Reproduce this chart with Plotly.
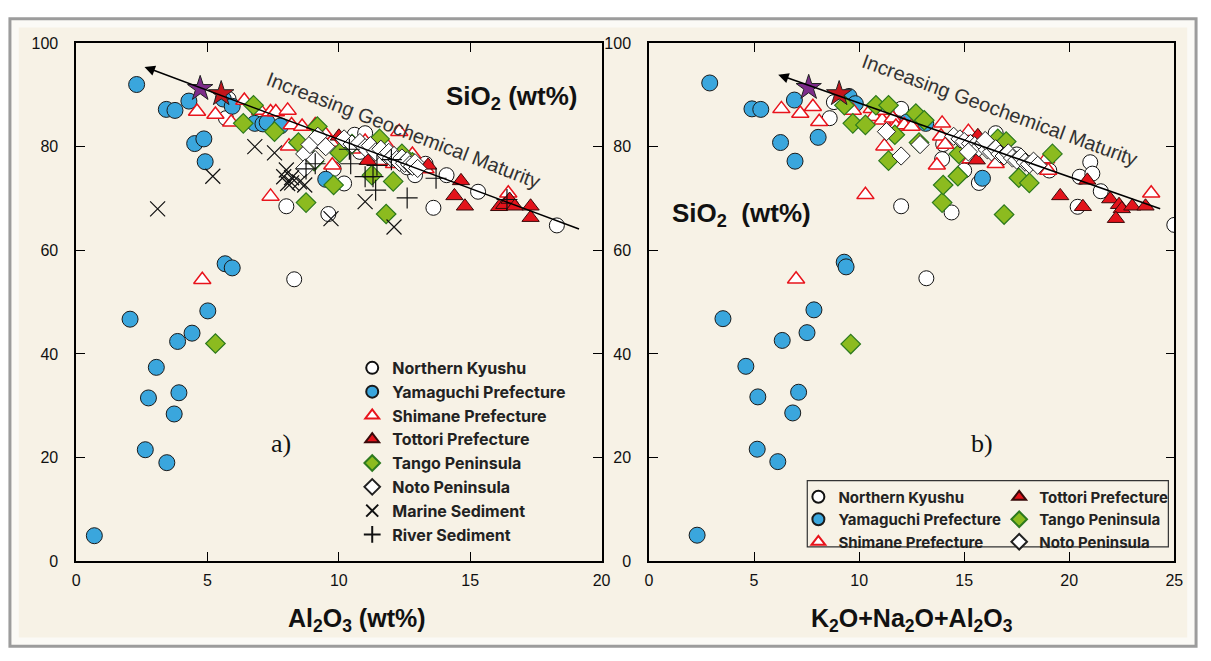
import plotly.graph_objects as go

# ---------------- DATA (panel a: Al2O3 vs SiO2) ----------------
kyushu_a_x = [5.8, 5.7, 8.0, 8.3, 9.2, 9.6, 9.8, 10.2, 10.6, 11.0, 11.5, 12.3, 12.9, 13.3, 13.6, 14.1, 15.3, 18.3, 8.8, 10.8, 12.6]
kyushu_a_y = [89.2, 85.5, 68.5, 54.4, 81.1, 67.0, 75.7, 72.9, 82.3, 82.6, 80.5, 78.0, 74.5, 76.7, 68.2, 74.5, 71.3, 64.8, 78.6, 79.0, 76.0]

yama_a_x = [2.3, 3.43, 3.76, 4.29, 4.51, 4.86, 4.91, 5.6, 5.94, 6.8, 7.11, 7.27, 7.78, 9.5,
            5.67, 5.94, 2.05, 5.01, 4.41, 3.86, 3.05, 2.75, 3.91, 3.73, 2.63, 3.45, 0.69]
yama_a_y = [92.0, 87.2, 87.0, 88.8, 80.6, 81.5, 77.1, 89.2, 87.8, 84.5, 84.4, 84.7, 84.0, 73.7,
            57.4, 56.6, 46.7, 48.3, 44.0, 42.4, 37.4, 31.5, 32.5, 28.4, 21.5, 19.0, 4.9]

shimane_a_x = [4.6, 4.8, 5.3, 5.9, 6.4, 7.0, 7.4, 7.6, 8.05, 8.2, 8.6, 8.1, 7.4, 9.1, 9.5, 9.1, 9.7, 9.75,
               11.8, 11.6, 12.1, 12.3, 13.3, 16.45, 10.5, 11.0, 12.8]
shimane_a_y = [86.8, 54.3, 86.2, 84.7, 88.9, 87.0, 86.7, 86.7, 87.0, 84.2, 83.9, 80.1, 70.4, 84.2, 82.3, 81.7, 80.8, 76.4,
               80.4, 77.3, 76.7, 82.9, 75.7, 71.0, 79.5, 81.0, 78.5]

tottori_a_x = [10.0, 11.1, 12.3, 12.6, 13.4, 14.4, 14.65, 14.8, 16.1, 16.3, 16.5, 16.7, 17.3, 17.3]
tottori_a_y = [82.0, 77.3, 78.0, 77.0, 76.4, 70.5, 73.4, 68.5, 68.4, 68.8, 69.8, 68.5, 68.5, 66.3]

tango_a_x = [5.3, 6.36, 6.75, 7.55, 8.46, 8.75, 9.06, 9.18, 9.8, 10.03, 10.5, 11.26, 11.55, 11.8, 12.07, 12.4, 12.8]
tango_a_y = [42.0, 84.5, 88.0, 82.9, 80.8, 69.2, 77.2, 83.9, 72.6, 78.8, 80.5, 74.5, 81.5, 67.0, 73.3, 78.6, 77.0]

noto_a_x = [8.7, 8.9, 9.2, 9.5, 10.2, 10.5, 10.8, 11.0, 11.2, 11.4, 11.6, 11.8, 11.9, 12.0, 12.1, 12.2, 12.3,
            12.4, 12.5, 12.6, 12.7, 12.8, 12.9, 13.0, 9.1, 8.7]
noto_a_y = [78.6, 80.4, 82.0, 80.0, 81.5, 80.5, 80.8, 79.8, 80.2, 79.0, 79.5, 78.4, 78.9, 77.8, 78.3, 77.5, 77.0,
            77.8, 76.8, 77.3, 76.5, 76.2, 76.9, 75.8, 77.5, 75.8]

marine_a_x = [3.1, 5.2, 6.8, 7.55, 7.9, 8.2, 8.2, 8.5, 8.7, 8.05, 9.7, 11.0, 12.1, 8.0]
marine_a_y = [68.0, 74.3, 80.0, 78.8, 74.2, 74.0, 73.0, 73.2, 72.6, 72.9, 66.1, 69.4, 64.5, 75.5]

river_a_x = [8.75, 9.1, 10.4, 10.45, 11.0, 11.3, 11.4, 11.45, 12.6, 13.7, 16.4, 12.0]
river_a_y = [75.7, 76.7, 79.5, 76.7, 74.2, 74.2, 71.6, 76.4, 70.1, 73.9, 69.8, 77.5]

stars_a_x = [4.72, 5.52]
stars_a_y = [91.2, 90.2]
trend_a = [[2.6, 95.4], [19.2, 64.0]]   # arrow head, tail

# ---------------- DATA (panel b: K2O+Na2O+Al2O3 vs SiO2) ----------------
kyushu_b_x = [8.6, 8.8, 12.0, 12.0, 13.2, 13.95, 14.4, 15.0, 15.7, 16.5, 19.05, 20.4, 20.5, 21.0, 21.1, 21.5, 25.0, 17.5, 14.0]
kyushu_b_y = [85.5, 88.6, 87.3, 68.5, 54.6, 77.6, 67.3, 75.4, 73.0, 82.6, 75.4, 68.4, 74.2, 77.0, 74.8, 71.4, 64.9, 78.5, 80.5]

yama_b_x = [2.89, 4.9, 5.32, 6.92, 6.26, 8.05, 6.95, 9.52, 9.82, 12.3, 13.17, 15.87,
            9.29, 9.38, 3.52, 7.85, 7.52, 6.34, 4.61, 5.18, 7.12, 6.84, 5.15, 6.13, 2.29]
yama_b_y = [92.3, 87.3, 87.2, 89.0, 80.8, 81.8, 77.2, 89.7, 88.3, 84.8, 84.5, 73.9,
            57.7, 56.8, 46.8, 48.5, 44.1, 42.6, 37.6, 31.7, 32.6, 28.6, 21.6, 19.2, 5.0]

shimane_b_x = [6.3, 7.0, 7.2, 7.8, 8.1, 9.7, 10.3, 10.6, 10.7, 11.1, 11.2, 11.2, 11.6, 11.75, 12.15, 12.5,
               13.7, 13.9, 13.95, 14.1, 15.2, 15.3, 16.5, 16.8, 18.9, 19.0, 23.9]
shimane_b_y = [87.3, 54.4, 86.4, 87.7, 84.8, 87.0, 70.7, 87.3, 85.8, 85.1, 87.0, 80.1, 85.5, 83.9, 84.2, 83.9,
               76.4, 82.0, 84.5, 80.4, 82.9, 77.6, 76.7, 80.8, 77.6, 75.4, 71.0]

tottori_b_x = [15.65, 15.6, 17.64, 18.42, 20.86, 19.57, 20.65, 21.95, 22.37, 22.5, 23.0, 23.63, 22.22]
tottori_b_y = [82.1, 77.4, 77.3, 76.7, 73.5, 70.5, 68.4, 69.9, 68.8, 68.0, 68.5, 68.5, 66.1]

tango_b_x = [9.6, 9.3, 9.7, 10.3, 10.8, 11.4, 11.4, 11.7, 12.7, 12.85, 13.1, 13.95, 14.0, 14.7, 14.75,
             16.6, 17.0, 16.9, 17.6, 18.1, 19.2]
tango_b_y = [41.9, 88.0, 84.5, 84.2, 88.0, 88.0, 77.3, 82.3, 86.4, 80.8, 85.1, 69.2, 72.6, 74.3, 78.6,
             81.5, 81.0, 66.9, 74.0, 73.0, 78.6]

noto_b_x = [11.3, 12.0, 12.9, 14.5, 14.8, 15.0, 15.3, 15.5, 15.7, 15.9, 16.1, 16.3, 16.5, 16.7, 16.9,
            17.1, 17.3, 17.5, 17.7, 17.9, 18.1, 18.3, 18.5, 15.2, 16.0]
noto_b_y = [82.9, 78.2, 80.4, 82.0, 81.5, 81.0, 80.6, 80.2, 79.8, 80.5, 79.4, 79.0, 79.6, 78.6, 78.2,
            78.8, 77.8, 77.4, 78.0, 77.0, 76.6, 77.2, 76.4, 79.0, 81.2]

stars_b_x = [7.6, 9.05]
stars_b_y = [91.4, 90.2]
trend_b = [[6.15, 93.9], [24.4, 67.9]]

x_ticks_a = [0, 5, 10, 15, 20]
x_ticks_b = [0, 5, 10, 15, 20, 25]
y_ticks = [0, 20, 40, 60, 80, 100]

# ---------------- STYLE ----------------
W, H = 1211, 661
CREAM = "#f7f2e6"
NARROW = "Liberation Sans Narrow, Arial Narrow, Liberation Sans, Arial, sans-serif"
BOLD = "Liberation Sans, Arial, sans-serif"
LEG = "Inter, Liberation Sans, Arial, sans-serif"

styles = {
    "kyushu": dict(symbol="circle", size=15, color="white", line=dict(color="#111", width=1)),
    "yama": dict(symbol="circle", size=16, color="#3aa6dd", line=dict(color="#1a1a1a", width=1)),
    "shimane": dict(symbol="triangle-up", size=15, color="white", line=dict(color="#e8141c", width=1.5)),
    "tottori": dict(symbol="triangle-up", size=15, color="#e3131b", line=dict(color="#3a0a0a", width=1)),
    "tango": dict(symbol="diamond", size=15, color="#8cbb1f", line=dict(color="#2d7a1e", width=1.2)),
    "noto": dict(symbol="diamond", size=14, color="white", line=dict(color="#222", width=1)),
    "marine": dict(symbol="x-thin", size=15, color="black", line=dict(color="#111", width=1.2)),
    "river": dict(symbol="cross-thin", size=15, color="black", line=dict(color="#111", width=1.2)),
}
names = {
    "kyushu": "Northern Kyushu", "yama": "Yamaguchi Prefecture", "shimane": "Shimane Prefecture",
    "tottori": "Tottori Prefecture", "tango": "Tango Peninsula", "noto": "Noto Peninsula",
    "marine": "Marine Sediment", "river": "River Sediment",
}

fig = go.Figure()

series_a = [("kyushu", kyushu_a_x, kyushu_a_y), ("yama", yama_a_x, yama_a_y),
            ("shimane", shimane_a_x, shimane_a_y), ("tottori", tottori_a_x, tottori_a_y),
            ("tango", tango_a_x, tango_a_y), ("noto", noto_a_x, noto_a_y),
            ("marine", marine_a_x, marine_a_y), ("river", river_a_x, river_a_y)]
for key, xs, ys in series_a:
    fig.add_trace(go.Scatter(x=xs, y=ys, mode="markers", name=names[key], marker=styles[key],
                             xaxis="x", yaxis="y", legend="legend"))

series_b = [("kyushu", kyushu_b_x, kyushu_b_y, "legend2"), ("yama", yama_b_x, yama_b_y, "legend2"),
            ("shimane", shimane_b_x, shimane_b_y, "legend2"), ("tottori", tottori_b_x, tottori_b_y, "legend3"),
            ("tango", tango_b_x, tango_b_y, "legend3"), ("noto", noto_b_x, noto_b_y, "legend3")]
for key, xs, ys, lg in series_b:
    fig.add_trace(go.Scatter(x=xs, y=ys, mode="markers", name=names[key], marker=styles[key],
                             xaxis="x2", yaxis="y2", legend=lg))

star_colors = ["#7d2c8a", "#c4161c"]
fig.add_trace(go.Scatter(x=stars_a_x, y=stars_a_y, mode="markers", showlegend=False, xaxis="x", yaxis="y",
                         marker=dict(symbol="star", size=19, color=star_colors, line=dict(color="#222", width=1))))
fig.add_trace(go.Scatter(x=stars_b_x, y=stars_b_y, mode="markers", showlegend=False, xaxis="x2", yaxis="y2",
                         marker=dict(symbol="star", size=19, color=star_colors, line=dict(color="#222", width=1))))

def px2x(p):
    return p / W

def py2y(p):
    return 1 - p / H

ydom = [py2y(567.7), py2y(36)]
axis_common = dict(showline=True, linecolor="black", linewidth=1.5, mirror="ticks", ticks="inside",
                   ticklen=9, tickwidth=1.2, tickcolor="black", showgrid=False, zeroline=False,
                   tickfont=dict(family=NARROW, size=16, color="#111"))

legend_font_a = dict(family=LEG, size=16, color="#222", weight="bold")
legend_font_b = dict(family=LEG, size=15, color="#222", weight="bold")

fig.update_layout(
    width=W, height=H, margin=dict(l=0, r=0, t=0, b=0),
    paper_bgcolor="white", plot_bgcolor=CREAM,
    xaxis=dict(domain=[px2x(73), px2x(604)], range=[0, 20], tickvals=x_ticks_a, anchor="y",
               ticklabelstandoff=4, **axis_common),
    yaxis=dict(domain=ydom, range=[0, 100], tickvals=y_ticks, anchor="x", ticklabelstandoff=13, **axis_common),
    xaxis2=dict(domain=[px2x(652), px2x(1183)], range=[0, 25], tickvals=x_ticks_b, anchor="y2",
                ticklabelstandoff=4, **axis_common),
    yaxis2=dict(domain=ydom, range=[0, 100], tickvals=y_ticks, anchor="x2", ticklabelstandoff=13, **axis_common),
    legend=dict(x=px2x(352), y=py2y(352), xanchor="left", yanchor="top", bgcolor="rgba(0,0,0,0)",
                font=legend_font_a, itemsizing="constant", tracegroupgap=0, borderwidth=0),
    legend2=dict(x=px2x(803), y=py2y(485), xanchor="left", yanchor="top", bgcolor="rgba(0,0,0,0)",
                 font=legend_font_b, itemsizing="constant", borderwidth=0),
    legend3=dict(x=px2x(1006), y=py2y(485), xanchor="left", yanchor="top", bgcolor="rgba(0,0,0,0)",
                 font=legend_font_b, itemsizing="constant", borderwidth=0),
    showlegend=True,
)

# figure frame + legend b box
fig.add_shape(type="rect", xref="paper", yref="paper", x0=px2x(6), x1=px2x(1205), y0=py2y(655), y1=py2y(11),
              line=dict(color="#9c9c9c", width=3), fillcolor="#fbfaf6", layer="below")
fig.add_shape(type="rect", xref="paper", yref="paper", x0=px2x(15), x1=px2x(1196), y0=py2y(646), y1=py2y(20),
              line=dict(width=0), fillcolor=CREAM, layer="below")
fig.add_shape(type="rect", xref="paper", yref="paper", x0=px2x(812), x1=px2x(1177), y0=py2y(553), y1=py2y(485),
              line=dict(color="#333", width=1.2), fillcolor="rgba(0,0,0,0)")

annotations = []
# trend arrows
for (head, tail), (xr, yr) in [((trend_a[0], trend_a[1]), ("x", "y")), ((trend_b[0], trend_b[1]), ("x2", "y2"))]:
    annotations.append(dict(x=head[0], y=head[1], ax=tail[0], ay=tail[1], xref=xr, yref=yr,
                            axref=xr, ayref=yr, showarrow=True, arrowhead=2, arrowsize=1.3,
                            arrowwidth=1.6, arrowcolor="black", text=""))

def label(x, y, text, font, xref="paper", yref="paper", angle=0):
    return dict(x=x, y=y, xref=xref, yref=yref, text=text, showarrow=False, textangle=angle,
                xanchor="center", yanchor="middle", font=font)

# maturity labels
mat_font = dict(family=BOLD, size=20, color="#333")
annotations.append(label(12.45, 83.3, "Increasing Geochemical Maturity", mat_font, "x", "y", 21))
annotations.append(label(16.7, 87.0, "Increasing Geochemical Maturity", mat_font, "x2", "y2", 20))
# SiO2 labels
sio_font = dict(family=BOLD, size=26, color="#111")
annotations.append(label(px2x(513), py2y(92), "<b>SiO<sub>2</sub> (wt%)</b>", sio_font))
annotations.append(label(px2x(745), py2y(212), "<b>SiO<sub>2</sub>  (wt%)</b>", sio_font))
# panel letters
serif = dict(family="Liberation Serif, Times New Roman, serif", size=26, color="#111")
annotations.append(label(px2x(280), py2y(447), "a)", serif))
annotations.append(label(px2x(989), py2y(447), "b)", serif))
# axis titles
title_font = dict(family=NARROW, size=25, color="#111")
annotations.append(label(px2x(357), py2y(628), "<b>Al<sub>2</sub>O<sub>3</sub> (wt%)</b>", title_font))
annotations.append(label(px2x(918), py2y(628), "<b>K<sub>2</sub>O+Na<sub>2</sub>O+Al<sub>2</sub>O<sub>3</sub></b>", title_font))
fig.update_layout(annotations=annotations)

fig.write_html("out.html")
